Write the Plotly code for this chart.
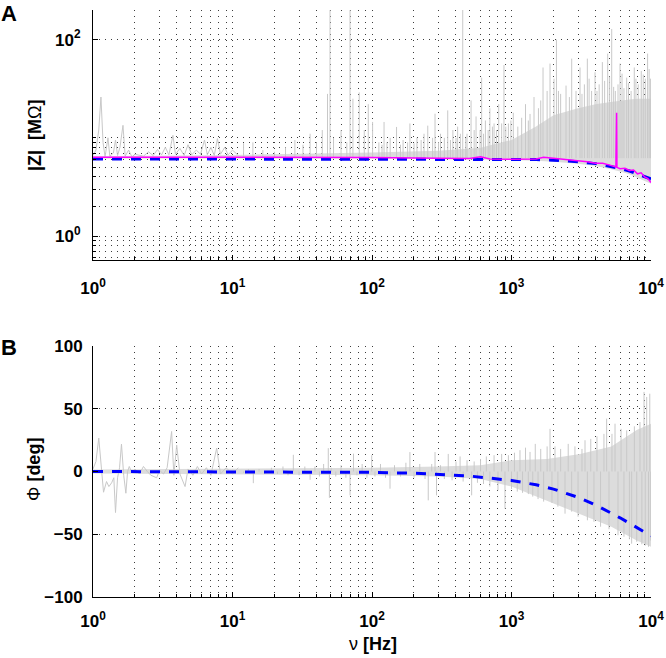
import plotly.graph_objects as go

# ---------------- data ----------------
# Panel A, measured |Z| in MOhm: sparse low-frequency part (a jagged line)
gray_top_f = [1.0, 1.05, 1.1, 1.14, 1.18, 1.22, 1.28, 1.32, 1.4, 1.45,
              1.5, 1.56, 1.64, 1.7, 1.8, 1.9, 2.0, 2.3, 2.5, 2.7,
              2.9, 3.1, 3.3, 3.5, 3.74, 3.9, 4.2, 4.5, 4.8, 5.1,
              5.5, 5.9, 6.3, 6.6, 7.0, 7.4, 7.8, 8.2, 8.8, 9.3,
              10, 11]
gray_top_z = [6.6, 7.5, 12, 26, 9, 6.4, 10, 6.5, 7, 9.5,
              6.6, 8, 13.4, 6.5, 7.5, 6.4, 6.8, 6.5, 7.2, 6.6,
              7.6, 6.7, 8, 6.7, 10.6, 6.8, 7.8, 6.6, 8.5, 6.7,
              7.5, 6.8, 9.5, 6.7, 8, 6.6, 9.8, 6.8, 8, 6.7,
              7.5, 6.6]

# Panel A, measured |Z|: spikes above the baseline (frequency, peak value)
spike_top_f = [12, 14, 16.5, 20, 24, 28, 32, 36, 40, 44,
               48, 50, 53, 60, 66, 69.6, 73, 81, 88, 94,
               101, 112, 122, 135, 150, 167, 187, 210, 236, 251,
               272, 283, 310, 349, 380, 411, 447, 480, 513, 557,
               595, 611, 650, 700, 750, 810, 883, 950, 1030, 1110,
               1183, 1260, 1358, 1450, 1560, 1683, 1800, 1888, 2017, 2100,
               2250, 2460, 2701, 2900, 3099, 3330, 3496, 3750, 3969, 4250,
               4480, 4893, 5228, 5550, 5800, 5996, 6400, 6696, 7200, 7590,
               8100, 8514, 9100, 9455, 9900,
               1320, 1620, 2170, 2600, 3200, 3600, 4100, 4650, 5050, 5400,
               6200, 6900, 7800, 8800, 9700,
               118, 128, 160, 180, 200, 225, 300, 330, 365, 400,
               430, 470, 540, 630, 680, 730, 780, 850, 910, 990]
spike_top_z = [8.8, 9, 7.5, 7.2, 8, 9.5, 8.5, 11, 9, 12,
               28, 250, 10, 12, 9, 250, 25, 29, 12, 22,
               14.5, 9, 14.5, 10, 12.9, 9.5, 14, 10, 11, 13.3,
               10, 17.6, 11, 19, 12, 13, 250, 11, 24, 16.5,
               12, 41, 15, 20, 14, 22, 55, 14, 18, 13,
               16, 22, 17.5, 26, 20, 52, 30, 57, 40, 100,
               28, 34, 64, 30, 52, 35, 64, 30, 46.5, 35,
               59, 72, 128, 30, 35, 57, 32, 41, 30, 52,
               35, 48, 40, 72, 40,
               15, 24, 30, 26, 28, 40, 30, 38, 42, 33,
               45, 36, 40, 44, 50,
               8.5, 9, 8.5, 9, 8.8, 9.5, 9, 10, 9.5, 10,
               11, 10, 12, 11, 12, 13, 12, 14, 13, 15]
spike_top_base = 6.2

# Panel A, measured |Z|: dense noise band (envelope)
band_top_f = [1, 10, 100, 300, 600, 1000, 1500, 2000, 3000, 4000, 5000, 6000, 7000, 8000, 9000, 10000]
band_top_hi = [6.5, 6.7, 7.1, 7.4, 7.9, 9.5, 13, 17, 20, 22, 23, 24, 24.5, 25, 25, 25]
band_top_lo = [6.15, 6.15, 6.15, 6.1, 6.05, 5.95, 5.85, 5.7, 5.45, 5.15, 4.85, 4.55, 4.25, 3.95, 3.65, 3.4]

# Panel A, magenta |Z| trace
mag_f = [1, 10, 100, 300, 500, 600, 700, 1000, 1500, 1700, 2000, 2500, 3000, 3500, 4000, 4500,
         5000, 5600, 5670, 5680, 5700, 6000, 6500, 7000, 7500, 8000, 8500, 9000, 9500, 10000]
mag_z = [6.35, 6.35, 6.3, 6.2, 6.15, 6.4, 6.1, 6.05, 6.1, 6.35, 6.2, 5.95, 5.8, 5.7, 5.5, 5.5,
         5.3, 5.05, 18, 5.0, 5.0, 4.85, 4.9, 4.65, 4.7, 4.3, 4.4, 4.0, 3.85, 3.5]

# model (blue dashed), both panels
model_f = [1, 10, 100, 200, 500, 1000, 1500, 2000, 3000, 4000, 5000, 6000, 7000, 8000, 9000, 10000]
model_z = [6.1, 6.1, 6.1, 6.1, 6.09, 6.05, 6.01, 5.92, 5.71, 5.46, 5.17, 4.88, 4.59, 4.31, 4.05, 3.81]
model_phi = [0, -0.07, -0.7, -1.4, -3.6, -7.1, -10.6, -14.0, -20.6, -26.6, -32.0, -36.9, -41.2,
             -45.0, -48.4, -51.3]

# Panel B, measured phase in deg: sparse low-frequency part
gray_bot_f = [1.0, 1.05, 1.1, 1.15, 1.19, 1.25, 1.3, 1.36, 1.41, 1.45,
              1.5, 1.55, 1.6, 1.66, 1.72, 1.77, 1.82, 1.9, 2.0, 2.15,
              2.3, 2.45, 2.6, 2.86, 3.0, 3.2, 3.4, 3.66, 3.8, 3.98,
              4.2, 4.57, 4.8, 5.2, 5.6, 6.0, 6.5, 7.0, 7.7, 8.2,
              9.0, 10, 11]
gray_bot_phi = [2, 8, 26.6, 2, -16.5, -8, -12, -9, -5, -32.7,
                -5, 3, 21.8, -3, -17.3, 0, 4, -1, 2, -2,
                4, 0, -3, -5, 1, -2, 3, 31.9, -3, 21,
                -2, -12, 2, -3, 4, -2, 3, -3, 18.6, -2,
                3, -2, 3]

# Panel B, measured phase: spikes from 0 (frequency, extreme value)
spike_bot_f = [12, 13, 14.1, 15.5, 17, 19, 21, 23, 25, 27.3,
               30, 33, 36, 39, 42, 45, 48.6, 49.5, 51, 55,
               60, 65, 69.6, 73.7, 78, 85, 92, 99.5, 105, 115,
               125, 134.6, 145, 160, 175, 187, 200, 220, 240, 253,
               268, 283, 290, 310, 330, 352, 375, 400, 428, 450,
               480, 518, 540, 570, 600, 630, 660, 700, 750, 800,
               850, 898, 950, 1000, 1050, 1100, 1150, 1200, 1260, 1320,
               1358, 1420, 1480, 1550, 1620, 1700, 1800, 1888, 1950, 2050,
               2150, 2250, 2420, 2550, 2700, 2850, 3000, 3200, 3365, 3500,
               3700, 3900, 4100, 4350, 4600, 4808, 5000, 5250, 5522, 5800,
               6100, 6400, 6696, 7000, 7265, 7600, 7900, 8336, 8600, 8913,
               9100, 9313, 9600, 9800, 9950]
spike_bot_phi = [-1, 2, -9.3, 2, -2, 3, -2, 4, -3, 13.3,
                 -3, 4, -6.6, 4, -4, 6, 18.6, -21, 3, -4,
                 5, -5, -19, 14.2, -3, 6, -5, 13, -4, 6,
                 -5, -13.7, 5, -4, 7, 15.5, -5, 6, -6, -23,
                 6, 15.5, -19, 5, -6, 14, -7, 8, 12, -8,
                 9, -19, 8, -9, 10, -10, 12, -12, 13, -15,
                 14, -29.6, 13, -14, 15, -16, 17, -17, 19, -18,
                 15.6, -20, 22, -22, 18, -24, 20, 34, -25, 20,
                 -28, 18, -33.6, 22, -32, 20, -36, 18, 24.9, -38.9,
                 26, -40, 28, -44, 30, 42.1, -46, 30, 38.1, -50.8,
                 34, -52, 32.8, -54, -57.5, 36, -56, 39.4, -58, 63.4,
                 -59, 59.4, -60, 62, -55]
spike_bot_base = 0

# Panel B, measured phase: dense noise band (envelope)
band_bot_f = [1, 10, 100, 300, 600, 1000, 1800, 3100, 5200, 7900, 10000]
band_bot_hi = [1.5, 2, 3, 4, 5, 9, 10, 14, 20, 33, 38]
band_bot_lo = [-1.5, -2, -3, -4, -6, -12, -23, -34, -44, -55, -60]

# tick labels
x_ticks = [1, 10, 100, 1000, 10000]
x_tick_text = ["10<sup>0</sup>", "10<sup>1</sup>", "10<sup>2</sup>", "10<sup>3</sup>", "10<sup>4</sup>"]
x_minor = [m * d for d in (1, 10, 100, 1000) for m in range(2, 10)]
ytop_ticks = [1, 100]
ytop_tick_text = ["10<sup>0</sup>", "10<sup>2</sup>"]
ytop_minor = [0.6, 0.7, 0.8, 0.9, 2, 3, 4, 5, 6, 7, 8, 9, 10, 200]
ybot_ticks = [-100, -50, 0, 50, 100]

assert len(spike_top_f) == len(spike_top_z)
assert len(spike_bot_f) == len(spike_bot_phi)

# ---------------- figure ----------------
FONT = "Liberation Sans, Arial, sans-serif"
GRID = "rgb(60,60,60)"
GDASH = "1px,5px"
GRAY_LINE = "rgb(200,200,200)"
GRAY_FILL = "rgb(220,220,220)"


def spikes(fs, vals, base):
    xs, ys = [], []
    for f, v in zip(fs, vals):
        xs += [f, f, None]
        ys += [base, v, None]
    return xs, ys


fig = go.Figure()

# Panel A
fig.add_trace(go.Scatter(x=band_top_f + band_top_f[::-1], y=band_top_hi + band_top_lo[::-1],
                         fill="toself", fillcolor=GRAY_FILL, line=dict(width=0),
                         mode="lines", xaxis="x", yaxis="y", hoverinfo="skip"))
sx, sy = spikes(spike_top_f, spike_top_z, spike_top_base)
fig.add_trace(go.Scatter(x=sx, y=sy, mode="lines", line=dict(color=GRAY_LINE, width=1),
                         xaxis="x", yaxis="y"))
fig.add_trace(go.Scatter(x=gray_top_f, y=gray_top_z, mode="lines",
                         line=dict(color=GRAY_LINE, width=1), xaxis="x", yaxis="y"))
fig.add_trace(go.Scatter(x=model_f, y=model_z, mode="lines",
                         line=dict(color="#0000ff", width=3, dash="10px,9px"), xaxis="x", yaxis="y"))
fig.add_trace(go.Scatter(x=mag_f, y=mag_z, mode="lines",
                         line=dict(color="#ff00ff", width=1.5), xaxis="x", yaxis="y"))

# Panel B
fig.add_trace(go.Scatter(x=band_bot_f + band_bot_f[::-1], y=band_bot_hi + band_bot_lo[::-1],
                         fill="toself", fillcolor=GRAY_FILL, line=dict(width=0),
                         mode="lines", xaxis="x2", yaxis="y2", hoverinfo="skip"))
sx, sy = spikes(spike_bot_f, spike_bot_phi, spike_bot_base)
fig.add_trace(go.Scatter(x=sx, y=sy, mode="lines", line=dict(color=GRAY_LINE, width=1),
                         xaxis="x2", yaxis="y2"))
fig.add_trace(go.Scatter(x=gray_bot_f, y=gray_bot_phi, mode="lines",
                         line=dict(color=GRAY_LINE, width=1), xaxis="x2", yaxis="y2"))
fig.add_trace(go.Scatter(x=model_f, y=model_phi, mode="lines",
                         line=dict(color="#0000ff", width=3, dash="10px,9px"), xaxis="x2", yaxis="y2"))

tickfont = dict(family=FONT, size=17, color="black", weight="bold")


def xaxis_cfg(anchor, standoff):
    return dict(type="log", range=[0, 4], anchor=anchor, domain=[0, 1], automargin=False,
                showline=True, linecolor="black", linewidth=1, mirror=False,
                ticks="inside", ticklen=5, tickcolor="black",
                tickvals=x_ticks, ticktext=x_tick_text, tickfont=tickfont,
                ticklabelstandoff=standoff,
                showgrid=True, gridcolor=GRID, griddash=GDASH, gridwidth=1, zeroline=False,
                minor=dict(tickvals=x_minor, ticks="inside", ticklen=3, tickcolor="black",
                           showgrid=True, gridcolor=GRID, griddash=GDASH, gridwidth=1))


fig.update_layout(
    width=666, height=658,
    margin=dict(l=93, r=15, t=10, b=61),
    paper_bgcolor="white", plot_bgcolor="white",
    showlegend=False,
    font=dict(family=FONT, size=17, color="black"),
    xaxis=xaxis_cfg("y", 13),
    xaxis2=xaxis_cfg("y2", 9),
    yaxis=dict(type="log", range=[-0.244, 2.301], domain=[0.5741, 1], anchor="x", automargin=False,
               showline=True, linecolor="black", linewidth=1, mirror=False,
               ticks="inside", ticklen=5, tickcolor="black",
               tickvals=ytop_ticks, ticktext=ytop_tick_text, tickfont=tickfont,
               ticklabelstandoff=8,
               showgrid=True, gridcolor=GRID, griddash=GDASH, gridwidth=1, zeroline=False,
               minor=dict(tickvals=ytop_minor, ticks="inside", ticklen=3, tickcolor="black",
                          showgrid=True, gridcolor=GRID, griddash=GDASH, gridwidth=1)),
    yaxis2=dict(range=[-100, 100], domain=[0, 0.4276], anchor="x2", automargin=False,
                showline=True, linecolor="black", linewidth=1, mirror=False,
                ticks="inside", ticklen=5, tickcolor="black",
                tickvals=ybot_ticks, tickfont=tickfont, ticklabelstandoff=6,
                showgrid=True, gridcolor=GRID, griddash=GDASH, gridwidth=1, zeroline=False),
)

ann_font = dict(family=FONT, size=18, color="black")
fig.add_annotation(text="<b>A</b>", xref="paper", yref="paper", x=-0.1505, y=0.994,
                   xanchor="center", yanchor="middle", showarrow=False,
                   font=dict(family=FONT, size=22, color="black"))
fig.add_annotation(text="<b>B</b>", xref="paper", yref="paper", x=-0.1505, y=0.4242,
                   xanchor="center", yanchor="middle", showarrow=False,
                   font=dict(family=FONT, size=22, color="black"))
fig.add_annotation(text="<b>|Z|  [M</b>Ω<b>]</b>", xref="paper", yref="paper", x=-0.104, y=0.787,
                   xanchor="center", yanchor="middle", textangle=-90, showarrow=False, font=ann_font)
fig.add_annotation(text="Φ <b>[deg]</b>", xref="paper", yref="paper", x=-0.1057, y=0.2164,
                   xanchor="center", yanchor="middle", textangle=-90, showarrow=False, font=ann_font)
fig.add_annotation(text="ν <b>[Hz]</b>", xref="paper", yref="paper", x=0.5018, y=-0.080,
                   xanchor="center", yanchor="middle", showarrow=False, font=ann_font)

# remove the default 8 px page margin so the 666x658 figure fills the window exactly
fig.write_html("out.html", config={"displayModeBar": False},
               post_script="document.body.style.margin='0px';document.body.style.overflow='hidden';")
